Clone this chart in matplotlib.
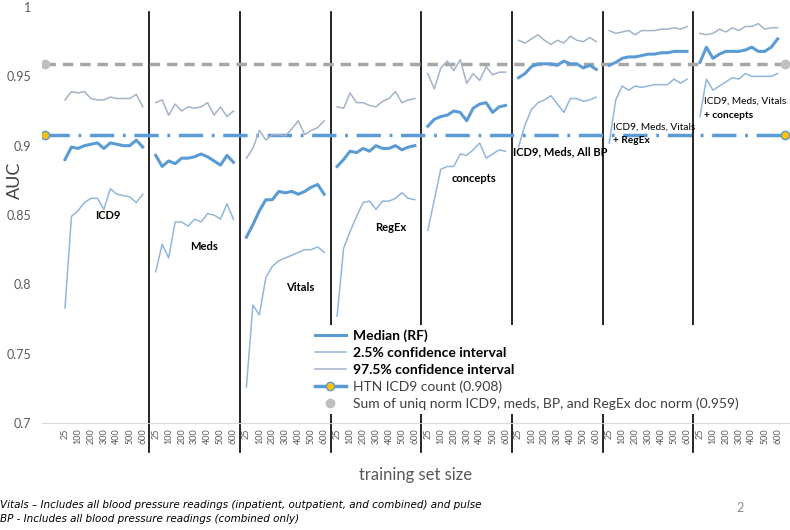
import matplotlib.pyplot as plt
import matplotlib.transforms as mtransforms
from matplotlib.lines import Line2D
import numpy as np

plt.rcParams['font.family'] = ['Lato', 'DejaVu Sans']

sizes = [25, 50, 100, 150, 200, 250, 300, 350, 400, 450, 500, 550, 600]
groups = ["ICD9", "Meds", "Vitals", "RegEx", "concepts",
          "ICD9, Meds, All BP", "ICD9, Meds, Vitals + RegEx",
          "ICD9, Meds, Vitals + concepts"]

# median AUC (RF), one row per feature set
median = [
    [0.890, 0.899, 0.898, 0.900, 0.901, 0.902, 0.898, 0.902, 0.901, 0.900, 0.900, 0.904, 0.899],
    [0.893, 0.885, 0.889, 0.887, 0.891, 0.891, 0.892, 0.894, 0.892, 0.889, 0.886, 0.893, 0.888],
    [0.834, 0.843, 0.853, 0.861, 0.861, 0.867, 0.866, 0.867, 0.865, 0.867, 0.870, 0.872, 0.865],
    [0.885, 0.890, 0.896, 0.895, 0.898, 0.896, 0.900, 0.898, 0.898, 0.900, 0.897, 0.899, 0.900],
    [0.914, 0.919, 0.921, 0.922, 0.925, 0.924, 0.918, 0.927, 0.930, 0.931, 0.924, 0.928, 0.929],
    [0.949, 0.952, 0.957, 0.959, 0.959, 0.959, 0.958, 0.961, 0.959, 0.959, 0.956, 0.958, 0.955],
    [0.958, 0.960, 0.963, 0.964, 0.964, 0.965, 0.966, 0.966, 0.967, 0.967, 0.968, 0.968, 0.968],
    [0.960, 0.971, 0.963, 0.966, 0.968, 0.968, 0.968, 0.969, 0.971, 0.968, 0.968, 0.971, 0.977],
]
ci_low = [
    [0.783, 0.849, 0.853, 0.859, 0.862, 0.862, 0.854, 0.869, 0.865, 0.864, 0.863, 0.859, 0.865],
    [0.809, 0.829, 0.819, 0.845, 0.845, 0.842, 0.847, 0.845, 0.851, 0.850, 0.847, 0.858, 0.847],
    [0.726, 0.785, 0.778, 0.805, 0.813, 0.817, 0.819, 0.821, 0.823, 0.825, 0.825, 0.827, 0.823],
    [0.777, 0.826, 0.838, 0.849, 0.859, 0.860, 0.854, 0.860, 0.860, 0.862, 0.866, 0.862, 0.861],
    [0.839, 0.861, 0.883, 0.885, 0.885, 0.894, 0.893, 0.897, 0.902, 0.891, 0.894, 0.897, 0.896],
    [0.899, 0.915, 0.926, 0.931, 0.933, 0.936, 0.930, 0.924, 0.934, 0.934, 0.932, 0.933, 0.935],
    [0.902, 0.933, 0.943, 0.940, 0.943, 0.942, 0.943, 0.944, 0.944, 0.944, 0.948, 0.945, 0.948],
    [0.921, 0.948, 0.940, 0.943, 0.946, 0.949, 0.948, 0.952, 0.950, 0.950, 0.950, 0.950, 0.952],
]
ci_high = [
    [0.933, 0.939, 0.938, 0.939, 0.934, 0.933, 0.933, 0.935, 0.934, 0.934, 0.934, 0.937, 0.928],
    [0.931, 0.933, 0.922, 0.930, 0.925, 0.928, 0.927, 0.928, 0.931, 0.922, 0.928, 0.921, 0.925],
    [0.891, 0.898, 0.911, 0.904, 0.908, 0.908, 0.907, 0.912, 0.918, 0.908, 0.911, 0.913, 0.918],
    [0.928, 0.927, 0.938, 0.931, 0.931, 0.929, 0.928, 0.932, 0.934, 0.939, 0.931, 0.933, 0.934],
    [0.952, 0.941, 0.956, 0.961, 0.954, 0.962, 0.945, 0.952, 0.947, 0.957, 0.951, 0.953, 0.953],
    [0.976, 0.974, 0.977, 0.980, 0.976, 0.973, 0.976, 0.974, 0.979, 0.976, 0.975, 0.978, 0.975],
    [0.983, 0.981, 0.982, 0.983, 0.980, 0.983, 0.983, 0.983, 0.984, 0.984, 0.985, 0.984, 0.986],
    [0.981, 0.980, 0.981, 0.984, 0.982, 0.985, 0.983, 0.986, 0.986, 0.988, 0.984, 0.985, 0.985],
]
htn_icd9 = 0.908
sum_norm = 0.959

c_med = '#5B9BD5'
c_low = '#92B6DC'
c_high = '#A3B3C8'

fig = plt.figure(figsize=(7.9, 5.3), dpi=100)
ax = fig.add_axes([42 / 790, 1 - 423 / 530, 748 / 790, 416 / 530])

step = len(sizes) + 1
tick_pos, tick_lab = [], []
for g in range(len(groups)):
    xs = g * step + np.arange(len(sizes))
    ax.plot(xs, ci_low[g], color=c_low, lw=1.1, zorder=3)
    ax.plot(xs, ci_high[g], color=c_high, lw=1.1, zorder=3)
    ax.plot(xs, median[g], color=c_med, lw=2.2, zorder=4)
    for i in range(0, len(sizes), 2):
        tick_pos.append(xs[i])
        tick_lab.append(str(sizes[i]))

xmin, xmax = -3.55, 111.9
ax.set_xlim(xmin, xmax)
ax.set_ylim(0.7, 1.0)

# reference lines with end markers
xe = [xmin + 0.45, xmax - 0.8]
ax.plot(xe, [sum_norm] * 2, color='#A6A6A6', lw=2.5, dashes=(3, 2), zorder=2)
ax.plot(xe, [sum_norm] * 2, ls='none', marker='o', ms=6, color='#BFBFBF', zorder=5)
ax.plot(xe, [htn_icd9] * 2, color=c_med, lw=2.5, dashes=(7, 2.5, 0.8, 2.5), zorder=2)
ax.plot(xe, [htn_icd9] * 2, ls='none', marker='o', ms=6, mfc='#FFC000', mec=c_med, mew=1, zorder=5)

# group separators
trans = mtransforms.blended_transform_factory(ax.transData, ax.transAxes)
for g in range(1, len(groups)):
    sx = g * step - 1
    ax.plot([sx, sx], [0.7, 0.9966], color='black', lw=1.2, zorder=1)
    ax.plot([sx, sx], [0, -0.07], color='black', lw=1.2, transform=trans, clip_on=False)

ax.set_xticks(tick_pos)
ax.set_xticklabels(tick_lab, rotation=90, fontsize=6.5, color='#595959')
ax.tick_params(axis='x', length=0, pad=4)
ax.set_yticks([0.7, 0.75, 0.8, 0.85, 0.9, 0.95, 1.0])
ax.set_yticklabels(['0.7', '0.75', '0.8', '0.85', '0.9', '0.95', '1'], fontsize=9, color='#595959')
ax.tick_params(axis='y', length=0, pad=8)
for s in ['top', 'right', 'left']:
    ax.spines[s].set_visible(False)
ax.spines['bottom'].set_color('#D9D9D9')
fig.text(15 / 790, 1 - 180 / 530, 'AUC', fontsize=13, color='#404040', rotation=90,
         ha='center', va='center')
ax.set_xlabel('training set size', fontsize=12, color='#595959', labelpad=16)

# group labels
lab_kw = dict(fontsize=8, fontweight='bold', ha='center', va='center', zorder=6)
ax.text(6.6, 0.8494, 'ICD9', **lab_kw)
ax.text(21.5, 0.827, 'Meds', **lab_kw)
ax.text(36.3, 0.798, 'Vitals', **lab_kw)
ax.text(50.2, 0.8407, 'RegEx', **lab_kw)
ax.text(63.1, 0.876, 'concepts', **lab_kw)
ax.text(76.5, 0.8955, 'ICD9, Meds, All BP', **lab_kw)
two_kw = dict(fontsize=7.3, va='center', zorder=6)
ax.text(84.6, 0.9136, 'ICD9, Meds, Vitals', **two_kw)
ax.text(84.6, 0.904, '+ RegEx', fontweight='bold', **two_kw)
ax.text(98.7, 0.9323, 'ICD9, Meds, Vitals', **two_kw)
ax.text(98.7, 0.9215, '+ concepts', fontweight='bold', **two_kw)

handles = [
    Line2D([], [], color=c_med, lw=2.2),
    Line2D([], [], color=c_low, lw=1.1),
    Line2D([], [], color=c_high, lw=1.1),
    Line2D([], [], color=c_med, lw=2.5, marker='o', ms=6, mfc='#FFC000', mec=c_med),
    Line2D([], [], ls='none', marker='o', ms=6, color='#BFBFBF'),
]
labels = ['Median (RF)', '2.5% confidence interval', '97.5% confidence interval',
          'HTN ICD9 count (0.908)',
          'Sum of uniq norm ICD9, meds, BP, and RegEx doc norm (0.959)']
leg = fig.legend(handles, labels, loc='upper left', bbox_to_anchor=(304 / 790, 1 - 318 / 530),
                 fontsize=10, frameon=True, facecolor='white', edgecolor='none', framealpha=1,
                 handlelength=2.2, labelspacing=0.35, borderpad=0.3, handletextpad=0.5,
                 fancybox=False)
leg.set_zorder(10)
for t in leg.get_texts()[:3]:
    t.set_fontweight('bold')
for t in leg.get_texts()[3:]:
    t.set_color('#404040')

foot_font = ['Liberation Sans Narrow', 'DejaVu Sans']
fig.text(0.0, 1 - 505 / 530, 'Vitals \u2013 Includes all blood pressure readings (inpatient, outpatient, and combined) and pulse',
         fontsize=7.5, style='italic', va='center', family=foot_font)
fig.text(0.0, 1 - 519 / 530, 'BP - Includes all blood pressure readings (combined only)',
         fontsize=7.5, style='italic', va='center', family=foot_font)
fig.text(736 / 790, 1 - 508 / 530, '2', fontsize=9, color='#8C8C8C', va='center')

fig.savefig('out.png', dpi=100)
